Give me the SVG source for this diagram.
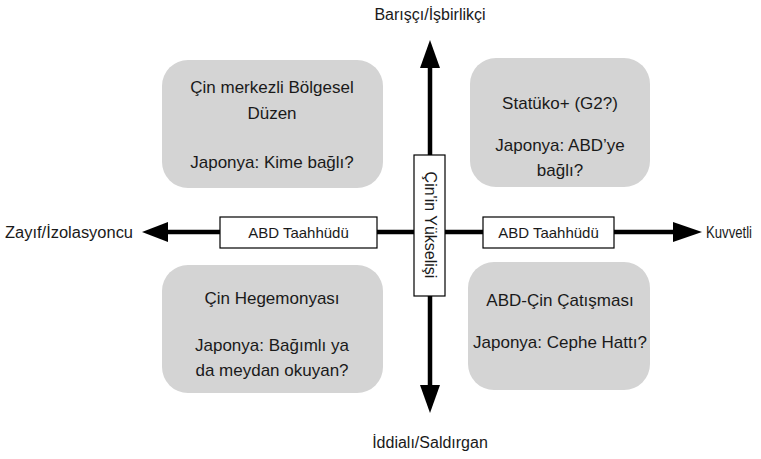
<svg xmlns="http://www.w3.org/2000/svg" width="761" height="459" viewBox="0 0 761 459">
<style>
text{font-family:"Liberation Sans",Arial,sans-serif;font-size:16px;fill:#1a1a1a;text-anchor:middle}
.q{fill:#d4d4d4}
.bt{font-size:17px}
.lbl{fill:#fff;stroke:#000;stroke-width:1.2}
.tl{font-size:15px}
.ax{stroke:#000;stroke-width:4.5;fill:none}
</style>
<rect width="761" height="459" fill="#fff"/>
<g id="connectors">
<line class="ax" x1="430" y1="64" x2="430" y2="388"/>
<line class="ax" x1="165" y1="232" x2="677" y2="232"/>
<polygon points="430,40 420,68 440,68"/>
<polygon points="430,413 420,385 440,385"/>
<polygon points="142,232 168,222 168,242"/>
<polygon points="702,232 673,222 673,242"/>
</g>
<g id="q-top-left">
<rect class="q" x="162" y="60" width="221" height="128" rx="26"/>
<text class="bt" x="272" y="93">Çin merkezli Bölgesel</text>
<text class="bt" x="272" y="119">Düzen</text>
<text class="bt" x="272" y="168">Japonya: Kime bağlı?</text>
</g>
<g id="q-top-right">
<rect class="q" x="470" y="58" width="180" height="129" rx="26"/>
<text class="bt" x="560" y="109">Statüko+ (G2?)</text>
<text class="bt" x="560" y="151">Japonya: ABD’ye</text>
<text class="bt" x="560" y="176">bağlı?</text>
</g>
<g id="q-bottom-left">
<rect class="q" x="162" y="265" width="221" height="128" rx="26"/>
<text class="bt" x="272" y="304">Çin Hegemonyası</text>
<text class="bt" x="272" y="351">Japonya: Bağımlı ya</text>
<text class="bt" x="272" y="376">da meydan okuyan?</text>
</g>
<g id="q-bottom-right">
<rect class="q" x="468" y="262" width="182" height="128" rx="26"/>
<text class="bt" x="560" y="306">ABD-Çin Çatışması</text>
<text class="bt" x="560" y="348">Japonya: Cephe Hattı?</text>
</g>
<g id="china-rise">
<rect class="lbl" x="414" y="155" width="31" height="141"/>
<text transform="translate(430,225) rotate(90)" y="5.5">Çin'in Yükselişi</text>
</g>
<g id="us-left">
<rect class="lbl" x="220" y="217" width="157" height="31"/>
<text class="tl" x="298.5" y="238">ABD Taahhüdü</text>
</g>
<g id="us-right">
<rect class="lbl" x="483" y="217" width="131" height="31"/>
<text class="tl" x="548.5" y="238">ABD Taahhüdü</text>
</g>
<g id="axis-labels">
<text x="430" y="20">Barışçı/İşbirlikçi</text>
<text x="430" y="448">İddialı/Saldırgan</text>
<text x="5" y="238" style="text-anchor:start" textLength="128" lengthAdjust="spacingAndGlyphs">Zayıf/İzolasyoncu</text>
<text x="706" y="238" style="text-anchor:start" textLength="46" lengthAdjust="spacingAndGlyphs">Kuvvetli</text>
</g>
</svg>
